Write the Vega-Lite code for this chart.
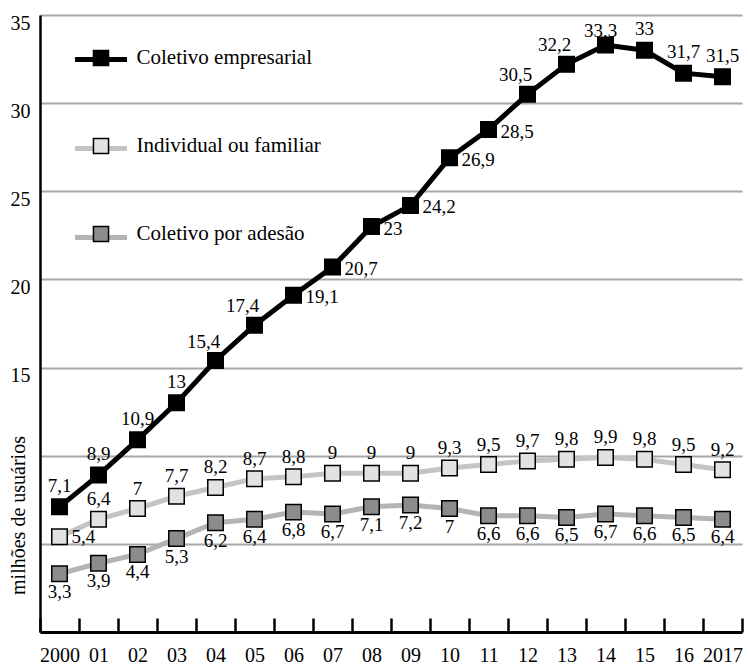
{
  "$schema": "https://vega.github.io/schema/vega-lite/v6.json",
  "width": 702,
  "height": 617,
  "autosize": {"type": "none"},
  "padding": {"left": 40, "top": 15, "right": 6, "bottom": 36},
  "background": "white",
  "config": {
    "font": "Liberation Serif",
    "view": {"stroke": null},
    "locale": {"number": {"decimal": ",", "thousands": ".", "grouping": [3], "currency": ["R$ ", ""]}}
  },
  "data": {
    "values": [
      {"year": 2000, "series": "Coletivo empresarial", "value": 7.1},
      {"year": 2001, "series": "Coletivo empresarial", "value": 8.9},
      {"year": 2002, "series": "Coletivo empresarial", "value": 10.9},
      {"year": 2003, "series": "Coletivo empresarial", "value": 13},
      {"year": 2004, "series": "Coletivo empresarial", "value": 15.4},
      {"year": 2005, "series": "Coletivo empresarial", "value": 17.4},
      {"year": 2006, "series": "Coletivo empresarial", "value": 19.1},
      {"year": 2007, "series": "Coletivo empresarial", "value": 20.7},
      {"year": 2008, "series": "Coletivo empresarial", "value": 23},
      {"year": 2009, "series": "Coletivo empresarial", "value": 24.2},
      {"year": 2010, "series": "Coletivo empresarial", "value": 26.9},
      {"year": 2011, "series": "Coletivo empresarial", "value": 28.5},
      {"year": 2012, "series": "Coletivo empresarial", "value": 30.5},
      {"year": 2013, "series": "Coletivo empresarial", "value": 32.2},
      {"year": 2014, "series": "Coletivo empresarial", "value": 33.3},
      {"year": 2015, "series": "Coletivo empresarial", "value": 33},
      {"year": 2016, "series": "Coletivo empresarial", "value": 31.7},
      {"year": 2017, "series": "Coletivo empresarial", "value": 31.5},
      {"year": 2000, "series": "Individual ou familiar", "value": 5.4},
      {"year": 2001, "series": "Individual ou familiar", "value": 6.4},
      {"year": 2002, "series": "Individual ou familiar", "value": 7},
      {"year": 2003, "series": "Individual ou familiar", "value": 7.7},
      {"year": 2004, "series": "Individual ou familiar", "value": 8.2},
      {"year": 2005, "series": "Individual ou familiar", "value": 8.7},
      {"year": 2006, "series": "Individual ou familiar", "value": 8.8},
      {"year": 2007, "series": "Individual ou familiar", "value": 9},
      {"year": 2008, "series": "Individual ou familiar", "value": 9},
      {"year": 2009, "series": "Individual ou familiar", "value": 9},
      {"year": 2010, "series": "Individual ou familiar", "value": 9.3},
      {"year": 2011, "series": "Individual ou familiar", "value": 9.5},
      {"year": 2012, "series": "Individual ou familiar", "value": 9.7},
      {"year": 2013, "series": "Individual ou familiar", "value": 9.8},
      {"year": 2014, "series": "Individual ou familiar", "value": 9.9},
      {"year": 2015, "series": "Individual ou familiar", "value": 9.8},
      {"year": 2016, "series": "Individual ou familiar", "value": 9.5},
      {"year": 2017, "series": "Individual ou familiar", "value": 9.2},
      {"year": 2000, "series": "Coletivo por adesão", "value": 3.3},
      {"year": 2001, "series": "Coletivo por adesão", "value": 3.9},
      {"year": 2002, "series": "Coletivo por adesão", "value": 4.4},
      {"year": 2003, "series": "Coletivo por adesão", "value": 5.3},
      {"year": 2004, "series": "Coletivo por adesão", "value": 6.2},
      {"year": 2005, "series": "Coletivo por adesão", "value": 6.4},
      {"year": 2006, "series": "Coletivo por adesão", "value": 6.8},
      {"year": 2007, "series": "Coletivo por adesão", "value": 6.7},
      {"year": 2008, "series": "Coletivo por adesão", "value": 7.1},
      {"year": 2009, "series": "Coletivo por adesão", "value": 7.2},
      {"year": 2010, "series": "Coletivo por adesão", "value": 7},
      {"year": 2011, "series": "Coletivo por adesão", "value": 6.6},
      {"year": 2012, "series": "Coletivo por adesão", "value": 6.6},
      {"year": 2013, "series": "Coletivo por adesão", "value": 6.5},
      {"year": 2014, "series": "Coletivo por adesão", "value": 6.7},
      {"year": 2015, "series": "Coletivo por adesão", "value": 6.6},
      {"year": 2016, "series": "Coletivo por adesão", "value": 6.5},
      {"year": 2017, "series": "Coletivo por adesão", "value": 6.4}
    ]
  },
  "encoding": {
    "x": {
      "field": "year", "type": "ordinal",
      "scale": {"type": "band", "paddingInner": 0, "paddingOuter": 0},
      "axis": {
        "title": null, "labelAngle": 0, "grid": false,
        "domainColor": "black", "domainWidth": 3,
        "tickBand": "extent", "tickColor": "black", "tickWidth": 2.5, "tickSize": -14,
        "labelFontSize": 20, "labelColor": "black", "labelPadding": 27, "labelBaseline": "top",
        "labelExpr": "datum.value == 2000 || datum.value == 2017 ? datum.label : slice(datum.label, 2)"
      }
    },
    "y": {
      "field": "value", "type": "quantitative",
      "scale": {"domain": [0, 35], "nice": false},
      "axis": {
        "values": [5, 10, 15, 20, 25, 30, 35],
        "grid": true, "gridColor": "#a6a6a6", "gridWidth": 2,
        "domainColor": "black", "domainWidth": 2.5, "ticks": false,
        "labelExpr": "datum.value >= 15 ? datum.label : ''",
        "labelFontSize": 20, "labelColor": "black", "labelPadding": 10, "labelBaseline": "middle", "labelOffset": 8,
        "title": "milhões de usuários", "titleFontSize": 20, "titleFontWeight": "normal", "titleColor": "black",
        "titleX": -22, "titleY": 500, "titleAngle": -90, "titleAlign": "center", "titleBaseline": "middle"
      }
    }
  },
  "layer": [
    {
      "mark": {"type": "line", "strokeWidth": 5},
      "encoding": {
        "stroke": {
          "field": "series", "type": "nominal",
          "scale": {"domain": ["Coletivo empresarial", "Individual ou familiar", "Coletivo por adesão"], "range": ["#000000", "#c4c4c4", "#b4b4b4"]},
          "legend": {
            "orient": "none", "legendX": 32.5, "legendY": 16, "title": null, "padding": 0,
            "symbolType": "M-1,0H-0.3M0.3,0H1", "symbolSize": 2704, "symbolStrokeWidth": 5,
            "labelFontSize": 21, "labelExpr": "''", "labelOffset": 5.5, "labelLimit": 400, "rowPadding": 50
          }
        }
      }
    },
    {
      "mark": {"type": "square", "size": 240, "opacity": 1, "filled": true, "stroke": "black", "strokeWidth": 1.5},
      "encoding": {
        "fill": {
          "field": "series", "type": "nominal",
          "sort": ["Coletivo empresarial", "Individual ou familiar", "Coletivo por adesão"],
          "scale": {"range": ["#000000", "#e2e2e2", "#8c8c8c"]},
          "legend": {
            "orient": "none", "legendX": 32.5, "legendY": 16, "title": null, "padding": 0,
            "symbolType": "M-0.29,-0.29H0.29V0.29H-0.29Z", "symbolSize": 2704, "symbolStrokeWidth": 1.5,
            "symbolStrokeColor": "black", "symbolOffset": 1.5, "symbolOpacity": 1,
            "labelFontSize": 21, "labelColor": "black", "labelOffset": 8.5, "labelLimit": 400, "rowPadding": 50
          }
        }
      }
    },
    {
      "transform": [{"filter": "datum.series == 'Coletivo empresarial' && (datum.year <= 2003 || datum.year >= 2015)"}],
      "mark": {"type": "text", "fontSize": 19, "color": "black", "dy": -21, "align": "center", "baseline": "middle"},
      "encoding": {"text": {"field": "value", "type": "quantitative", "format": ".1~f"}}
    },
    {
      "transform": [{"filter": "datum.series == 'Coletivo empresarial' && datum.year == 2014"}],
      "mark": {"type": "text", "fontSize": 19, "color": "black", "dx": -5, "dy": -14, "align": "center", "baseline": "middle"},
      "encoding": {"text": {"field": "value", "type": "quantitative", "format": ".1~f"}}
    },
    {
      "transform": [{"filter": "datum.series == 'Coletivo empresarial' && (datum.year == 2004 || datum.year == 2005 || datum.year == 2012 || datum.year == 2013)"}],
      "mark": {"type": "text", "fontSize": 19, "color": "black", "dx": -12, "dy": -19, "align": "center", "baseline": "middle"},
      "encoding": {"text": {"field": "value", "type": "quantitative", "format": ".1~f"}}
    },
    {
      "transform": [{"filter": "datum.series == 'Coletivo empresarial' && datum.year >= 2006 && datum.year <= 2011"}],
      "mark": {"type": "text", "fontSize": 19, "color": "black", "dx": 12, "dy": 2, "align": "left", "baseline": "middle"},
      "encoding": {"text": {"field": "value", "type": "quantitative", "format": ".1~f"}}
    },
    {
      "transform": [{"filter": "datum.series == 'Individual ou familiar' && datum.year == 2000"}],
      "mark": {"type": "text", "fontSize": 19, "color": "black", "dx": 12, "dy": 0, "align": "left", "baseline": "middle"},
      "encoding": {"text": {"field": "value", "type": "quantitative", "format": ".1~f"}}
    },
    {
      "transform": [{"filter": "datum.series == 'Individual ou familiar' && datum.year > 2000"}],
      "mark": {"type": "text", "fontSize": 19, "color": "black", "dy": -20, "align": "center", "baseline": "middle"},
      "encoding": {"text": {"field": "value", "type": "quantitative", "format": ".1~f"}}
    },
    {
      "transform": [{"filter": "datum.series == 'Coletivo por adesão'"}],
      "mark": {"type": "text", "fontSize": 19, "color": "black", "dy": 18, "align": "center", "baseline": "middle"},
      "encoding": {"text": {"field": "value", "type": "quantitative", "format": ".1~f"}}
    }
  ]
}
